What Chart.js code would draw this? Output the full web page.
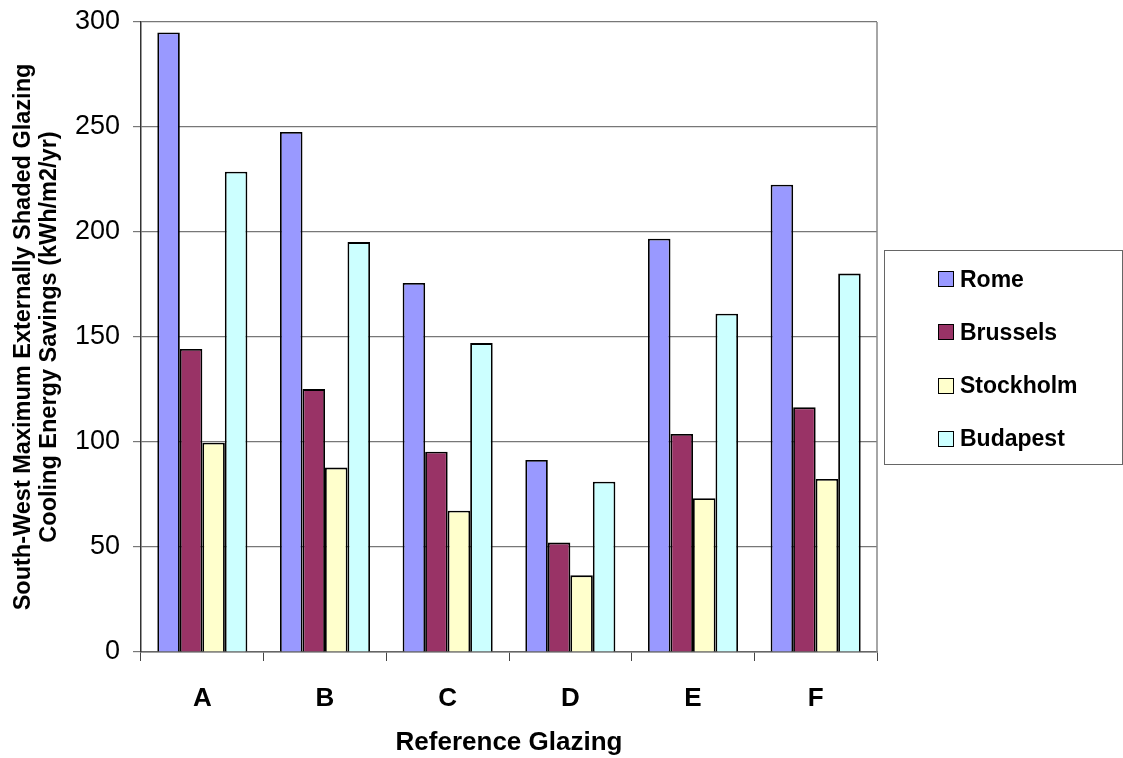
<!DOCTYPE html>
<html>
<head>
<meta charset="utf-8">
<script src="https://cdn.jsdelivr.net/npm/chart.js@4/dist/chart.umd.min.js"></script>
<style>
  html, body { margin: 0; padding: 0; background: #fff; }
  #wrap { position: relative; width: 1123px; height: 758px; }
  #legend { position: absolute; left: 884px; top: 250px; width: 239px; height: 215px;
            border: 1px solid #666; box-sizing: border-box; font-family: "Liberation Sans", Arial, sans-serif; }
  .item { position: absolute; left: 53px; height: 26px; display: flex; align-items: center;
          font-weight: bold; font-size: 23px; color: #000; }
  .sw { width: 14px; height: 14px; border: 1px solid #000; margin-right: 6px; }
</style>
</head>
<body>
<div id="wrap">
  <canvas id="c" width="1123" height="758"></canvas>
  <div id="legend"></div>
</div>
<script>
const categories = ['A', 'B', 'C', 'D', 'E', 'F'];
const seriesNames = ['Rome', 'Brussels', 'Stockholm', 'Budapest'];
const rome      = [295, 247.6, 175.7, 91.4, 196.8, 222.5];
const brussels  = [144.3, 125.2, 95.4, 52.1, 103.8, 116.5];
const stockholm = [99.7, 87.8, 67.3, 36.5, 73.2, 82.4];
const budapest  = [228.7, 195.2, 147.1, 81.1, 161.1, 180.2];
const seriesColors = ['#9999FF', '#993366', '#FFFFCC', '#CCFFFF'];
const yTitle = ['South-West Maximum Externally Shaded Glazing', 'Cooling Energy Savings (kWh/m2/yr)'];
const xTitle = 'Reference Glazing';

const allValues = [rome, brussels, stockholm, budapest];
const FONT = '"Liberation Sans", Arial, sans-serif';

const rightBorder = {
  id: 'rightBorder',
  afterDatasetsDraw(chart) {
    const {ctx, chartArea} = chart;
    ctx.save();
    ctx.strokeStyle = '#888';
    ctx.lineWidth = 1.5;
    ctx.beginPath();
    ctx.moveTo(chartArea.right, chartArea.top);
    ctx.lineTo(chartArea.right, chartArea.bottom);
    ctx.stroke();
    ctx.restore();
  }
};

new Chart(document.getElementById('c'), {
  type: 'bar',
  data: {
    labels: categories,
    datasets: seriesNames.map((n, i) => ({
      label: n,
      data: allValues[i],
      backgroundColor: seriesColors[i],
      borderColor: '#000',
      borderWidth: 1.8,
      categoryPercentage: 0.734,
      barPercentage: 1.0
    }))
  },
  options: {
    responsive: false,
    animation: false,
    layout: { padding: { left: 0, top: 22, right: 246, bottom: 0 } },
    plugins: { legend: { display: false }, tooltip: { enabled: false } },
    scales: {
      x: {
        grid: { display: true, drawOnChartArea: false, offset: true, tickLength: 9, color: '#444', lineWidth: 1 },
        border: { display: true, color: '#666', width: 1.5 },
        ticks: { color: '#000', font: { family: FONT, size: 26, weight: 'bold' }, padding: 22 },
        title: { display: true, text: xTitle, color: '#000', font: { family: FONT, size: 26, weight: 'bold', lineHeight: 1.2 }, padding: { top: 0, bottom: 0 } },
        afterFit(scale) { scale.height = 106; }
      },
      y: {
        min: 0, max: 300,
        grid: { color: '#777', lineWidth: 1.2, tickLength: 8 },
        border: { display: true, color: '#333', width: 1.5 },
        ticks: { stepSize: 50, color: '#000', font: { family: FONT, size: 27 }, padding: 13 },
        title: { display: true, text: yTitle, color: '#000', font: { family: FONT, size: 23.5, weight: 'bold', lineHeight: 1.1 }, padding: { top: 11, bottom: 0 } },
        afterFit(scale) { scale.width = 141; scale.paddingTop = 0; scale.paddingBottom = 0; }
      }
    }
  },
  plugins: [rightBorder]
});

const legend = document.getElementById('legend');
seriesNames.forEach((n, i) => {
  const d = document.createElement('div');
  d.className = 'item';
  d.style.top = (15 + i * 53.3) + 'px';
  const sw = document.createElement('span');
  sw.className = 'sw';
  sw.style.background = seriesColors[i];
  const t = document.createElement('span');
  t.textContent = n;
  d.appendChild(sw); d.appendChild(t);
  legend.appendChild(d);
});
</script>
</body>
</html>
